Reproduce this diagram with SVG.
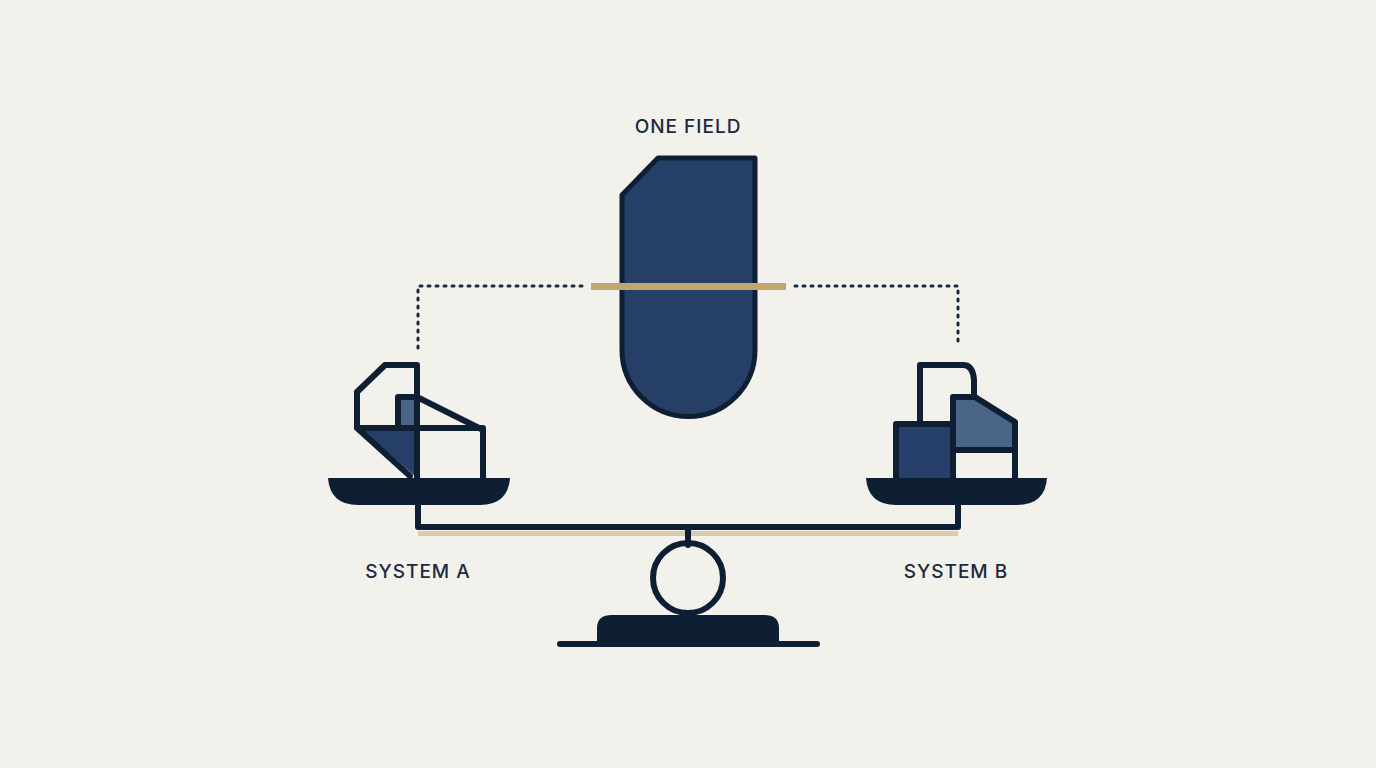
<svg xmlns="http://www.w3.org/2000/svg" width="1376" height="768" viewBox="0 0 1376 768">
<style>
.ln{fill:none;stroke:#0f1f33;stroke-width:6;stroke-linejoin:round;stroke-linecap:round}
.dk{fill:#0f1f33}
.t{font-family:"Inter","Liberation Sans",sans-serif;font-size:19px;font-weight:500;fill:#1b2a40;letter-spacing:1px;text-anchor:middle}
.dot{fill:none;stroke:#1b2a40;stroke-width:3;stroke-dasharray:2 6;stroke-linecap:round}
</style>
<rect width="1376" height="768" fill="#f3f1eb"/>
<g id="connectors">
<path class="dot" d="M582 286H418V350"/>
<path class="dot" d="M795 286H958V345"/>
</g>
<g id="field">
<path d="M622 195L658 158H755V350A66.5 66.5 0 0 1 622 350Z" fill="#253f66" stroke="#0f1f33" stroke-width="5" stroke-linejoin="round"/>
<rect x="591" y="283" width="195" height="7" fill="#c2a66e"/>
<text class="t" x="688" y="133">ONE FIELD</text>
</g>
<g id="scale">
<path d="M418 505V527H958V505" class="ln"/>
<rect x="418" y="531" width="540" height="5" fill="#d9cbb0"/>
<line x1="688" y1="530" x2="688" y2="545" class="ln"/>
<circle cx="688" cy="578" r="35" class="ln" stroke-width="6"/>
<path class="dk" d="M597 642V628Q597 615 612 615H764Q779 615 779 628V642Z"/>
<rect x="557" y="641" width="263" height="6" rx="3" class="dk"/>
</g>
<g id="systemA">
<path d="M362 430H415V476Z" fill="#253f66"/>
<rect x="398" y="397" width="19" height="33" fill="#4a6488"/>
<path class="ln" d="M357 392L385 365H417V478M357 392V428H483V478M357 428L410 476M398 428V397H417L483 430"/>
<path class="dk" d="M328 478H510Q508 505 480 505H358Q330 505 328 478Z"/>
<text class="t" x="418" y="578">SYSTEM A</text>
</g>
<g id="systemB">
<rect x="896" y="424" width="57" height="54" fill="#263f6b"/>
<path d="M953 397H975L1015 422V450H953Z" fill="#4a6488"/>
<path class="ln" d="M920 424V365H963Q973 365 974 380V397M896 478V424H953M953 478V397H975L1015 422V478M953 450H1015"/>
<path class="dk" d="M866 478H1047Q1045 505 1017 505H896Q868 505 866 478Z"/>
<text class="t" x="956" y="578">SYSTEM B</text>
</g>
</svg>
